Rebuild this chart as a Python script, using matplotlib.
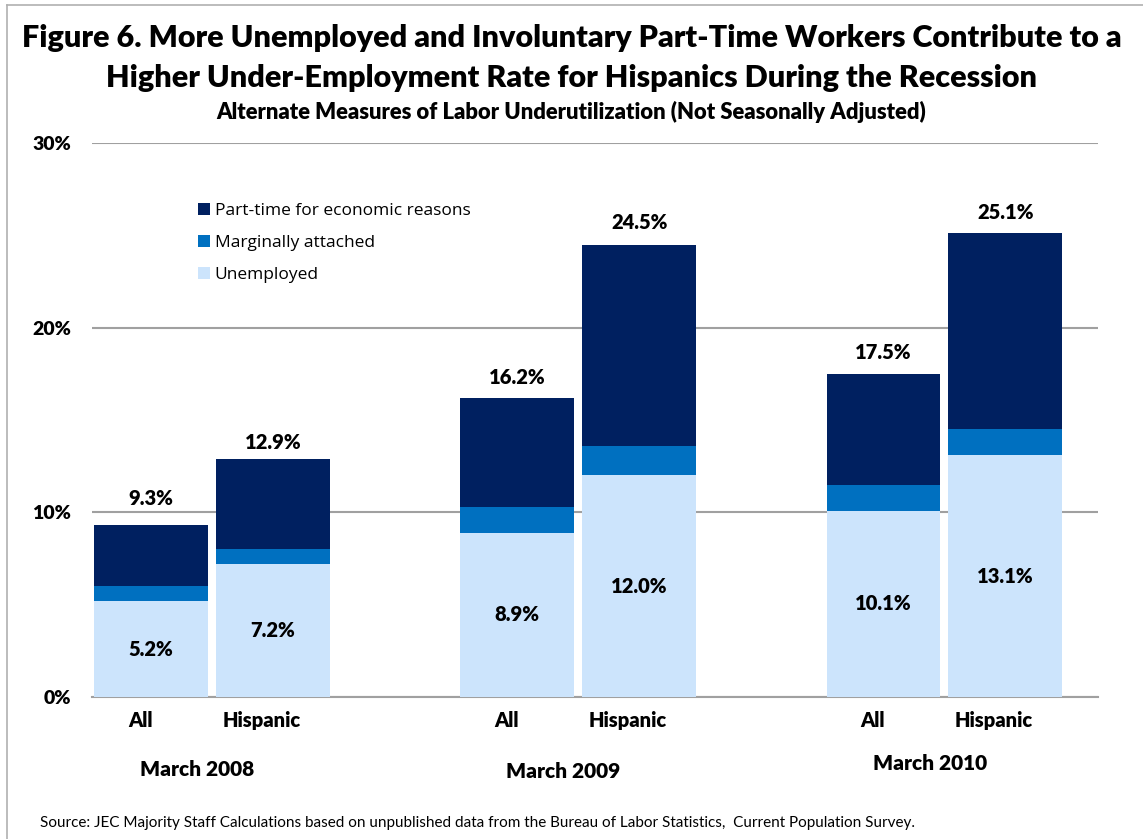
import matplotlib
matplotlib.use("Agg")
import matplotlib.pyplot as plt
import numpy as np

# data (percent)
periods = ["March 2008", "March 2009", "March 2010"]
groups = ["All", "Hispanic"]
unemployed = [5.2, 7.2, 8.9, 12.0, 10.1, 13.1]
marginal = [0.8, 0.8, 1.4, 1.6, 1.4, 1.4]
totals = [9.3, 12.9, 16.2, 24.5, 17.5, 25.1]
parttime = [t - u - m for t, u, m in zip(totals, unemployed, marginal)]

c_dark = "#002060"
c_mid = "#0070C0"
c_light = "#CCE4FC"

plt.rcParams['font.family'] = ['Lato', 'DejaVu Sans']
heavy = 800

fig = plt.figure(figsize=(11.43, 8.39), dpi=100)
ax = fig.add_axes([0.0805, 0.1692, 0.8801, 0.6604])

w = 0.31
off = 0.1665
x = []
for i in range(len(periods)):
    x += [i - off, i + off]
x = np.array(x)

ax.bar(x, unemployed, w, color=c_light, label="Unemployed", zorder=3)
ax.bar(x, marginal, w, bottom=unemployed, color=c_mid, label="Marginally attached", zorder=3)
ax.bar(x, parttime, w, bottom=np.array(unemployed) + np.array(marginal), color=c_dark,
       label="Part-time for economic reasons", zorder=3)

# gap between bar top and the total label (the original is not quite even)
lab_gap = [1.45, 0.9, 1.1, 1.2, 1.15, 1.15]
for xi, u, t, g in zip(x, unemployed, totals, lab_gap):
    ax.text(xi, u / 2, "%.1f%%" % u, ha="center", va="center", fontsize=14.5, fontweight=heavy, zorder=4)
    ax.text(xi, t + g, "%.1f%%" % t, ha="center", va="center", fontsize=14.5, fontweight=heavy, zorder=4)

ax.set_ylim(0, 30)
ax.set_xlim(-0.328, 2.42)
ax.set_yticks([0, 10, 20, 30])
ax.set_yticklabels(["0%", "10%", "20%", "30%"], fontsize=14, fontweight=heavy)
ax.tick_params(axis="y", length=0, pad=15)
ax.set_xticks([])
ax.grid(axis="y", color="#a0a0a0", linewidth=1.5, zorder=0)
for s in ["top", "right", "left"]:
    ax.spines[s].set_visible(False)
ax.spines["bottom"].set_color("#a0a0a0")
ax.spines["bottom"].set_linewidth(1.5)

# category labels under the bars
for xi, g in zip(x, groups * 3):
    ax.text(xi - 0.03, -1.25, g, ha="center", va="center", fontsize=14.5, fontweight=heavy)
per_y = [-3.9, -4.05, -3.6]
for i, p in enumerate(periods):
    ax.text(i - 0.04, per_y[i], p, ha="center", va="center", fontsize=15, fontweight=heavy)

h, l = ax.get_legend_handles_labels()
leg = ax.legend(h[::-1], l[::-1], loc="upper left", bbox_to_anchor=(0.09, 0.92), frameon=False,
                handlelength=0.7, handleheight=0.7, labelspacing=0.92, handletextpad=0.25,
                prop={'family': ['Open Sans', 'DejaVu Sans'], 'size': 12.5})

fig.text(0.5, 0.955, "Figure 6. More Unemployed and Involuntary Part-Time Workers Contribute to a",
         ha="center", va="center", fontsize=22, fontweight=heavy)
fig.text(0.5, 0.907, "Higher Under-Employment Rate for Hispanics During the Recession",
         ha="center", va="center", fontsize=22, fontweight=heavy)
fig.text(0.5, 0.866, "Alternate Measures of Labor Underutilization (Not Seasonally Adjusted)",
         ha="center", va="center", fontsize=15.8, fontweight=heavy)
fig.text(0.035, 0.019, "Source: JEC Majority Staff Calculations based on unpublished data from the Bureau of Labor Statistics,  Current Population Survey.",
         ha="left", va="center", fontsize=11)

# outer frame (left and top edges visible)
fig.add_artist(plt.Line2D([0.006, 0.006], [0, 0.994], color="#b0b0b0", linewidth=1.2))
fig.add_artist(plt.Line2D([0.006, 1.0], [0.994, 0.994], color="#b0b0b0", linewidth=1.2))

fig.savefig("out.png", dpi=100)
